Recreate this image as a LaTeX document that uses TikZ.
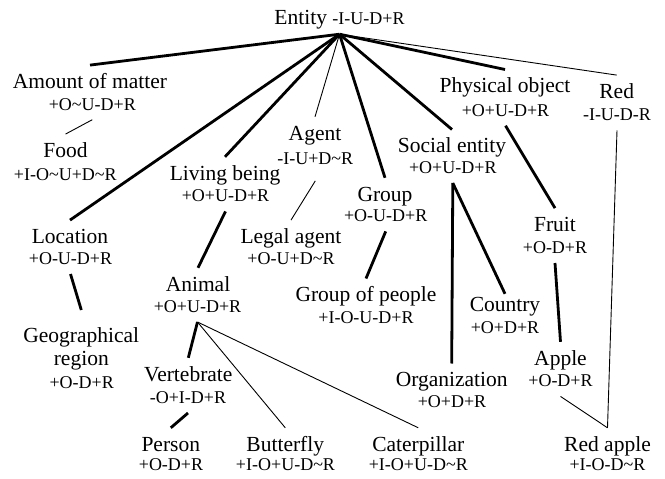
\documentclass[tikz,border=0pt]{standalone}
\usepackage{fontspec}
\setmainfont{Liberation Serif}
\newcommand{\nmfont}{\fontsize{21.5}{23.2}\selectfont}
\newcommand{\atfont}{\fontsize{18}{20}\selectfont}
\newcommand{\mytilde}{\textasciitilde}
\begin{document}
\begin{tikzpicture}[x=1pt,y=-1pt,
  nm/.style={font=\nmfont, anchor=base, inner xsep=0pt, inner ysep=8pt, text height=15pt, text depth=0pt},
  attr/.style={font=\atfont, anchor=base, inner xsep=0pt, inner ysep=9.5pt, text height=12pt, text depth=0pt},
  thk/.style={line width=2.8pt},
  thn/.style={line width=0.9pt}]
\useasboundingbox (0,0) rectangle (665,479);

% root
\node[nm, inner ysep=10pt] (ent) at (339.5,24) {Entity {\atfont -I-U-D+R}};

% concepts
\node[nm] (amt) at (90,88.3) {Amount of matter};
\node[attr] (amtA) at (92.3,110) {+O\mytilde U-D+R};
\node[nm] (food) at (65.5,157.3) {Food};
\node[attr] (foodA) at (65.3,180) {+I-O\mytilde U+D\mytilde R};
\node[nm] (loc) at (70,243.3) {Location};
\node[attr] (locA) at (70.5,264.3) {+O-U-D+R};
\node[font=\nmfont, align=center, anchor=north, inner xsep=0pt, inner ysep=17.6pt] (geo) at (81.3,310) {Geographical\\region};
\node[attr] (geoA) at (81.7,388.3) {+O-D+R};

\node[nm] (liv) at (225,180) {Living being};
\node[attr] (livA) at (225.5,201.7) {+O+U-D+R};
\node[nm] (ani) at (198,291) {Animal};
\node[attr] (aniA) at (197.5,312.3) {+O+U-D+R};
\node[nm] (ver) at (188.3,381) {Vertebrate};
\node[attr] (verA) at (188,403.3) {-O+I-D+R};
\node[nm] (per) at (170.8,451) {Person};
\node[attr] (perA) at (171,470.7) {+O-D+R};
\node[nm] (but) at (285.3,451) {Butterfly};
\node[attr] (butA) at (285.5,470.7) {+I-O+U-D\mytilde R};
\node[nm] (cat) at (418.3,451) {Caterpillar};
\node[attr] (catA) at (418.3,470.7) {+I-O+U-D\mytilde R};

\node[nm] (age) at (315,140) {Agent};
\node[attr, inner ysep=16.4pt] (ageA) at (315.3,164.3) {-I-U+D\mytilde R};
\node[nm] (leg) at (291,243.3) {Legal agent};
\node[attr] (legA) at (291,264.3) {+O-U+D\mytilde R};

\node[nm] (grp) at (385,201) {Group};
\node[attr] (grpA) at (385.7,221.7) {+O-U-D+R};
\node[nm] (gop) at (366,301.7) {Group of people};
\node[attr] (gopA) at (366,323.3) {+I-O-U-D+R};

\node[nm] (soc) at (452,152.7) {Social entity};
\node[attr] (socA) at (452.8,173.3) {+O+U-D+R};
\node[nm, inner ysep=2.7pt] (cou) at (505,311.7) {Country};
\node[attr] (couA) at (505,333.3) {+O+D+R};
\node[nm] (org) at (451.7,386.7) {Organization};
\node[attr] (orgA) at (452,407.3) {+O+D+R};

\node[nm] (phy) at (505,92.7) {Physical object};
\node[attr] (phyA) at (505.5,116) {+O+U-D+R};
\node[nm] (fru) at (555,231.3) {Fruit};
\node[attr] (fruA) at (555,253.3) {+O-D+R};
\node[nm] (app) at (560.5,365) {Apple};
\node[attr] (appA) at (560.5,386.7) {+O-D+R};

\node[nm] (red) at (616.7,98.3) {Red};
\node[attr] (redA) at (617,120.7) {-I-U-D-R};
\node[nm] (rap) at (607.5,451) {Red apple};
\node[attr] (rapA) at (607.5,470.7) {+I-O-D\mytilde R};

% connectors
\draw[thk] (ent.south) -- (amt.north);
\draw[thk] (ent.south) -- (loc.north);
\draw[thk] (ent.south) -- (liv.north);
\draw[thn] (ent.south) -- (age.north);
\draw[thk] (ent.south) -- (grp.north);
\draw[thk] (ent.south) -- (soc.north);
\draw[thk] (ent.south) -- (phy.north);
\draw[thn] (ent.south) -- (red.north);

\draw[thn] (amtA.south) -- (food.north);
\draw[thk] (locA.south) -- (geo.north);
\draw[thk] (livA.south) -- (ani.north);
\draw[thk] (aniA.south) -- (ver.north);
\draw[thn] (aniA.south) -- (but.north);
\draw[thn] (aniA.south) -- (cat.north);
\draw[thk] (verA.south) -- (per.north);
\draw[thn] (ageA.south) -- (leg.north);
\draw[thk] (grpA.south) -- (gop.north);
\draw[thk] (socA.south) -- (org.north);
\draw[thk] (socA.south) -- (cou.north);
\draw[thk] (phyA.south) -- (fru.north);
\draw[thk] (fruA.south) -- (app.north);
\draw[thn] (appA.south) -- (rap.north);
\draw[thn] (redA.south) -- (rap.north);
\end{tikzpicture}
\end{document}
